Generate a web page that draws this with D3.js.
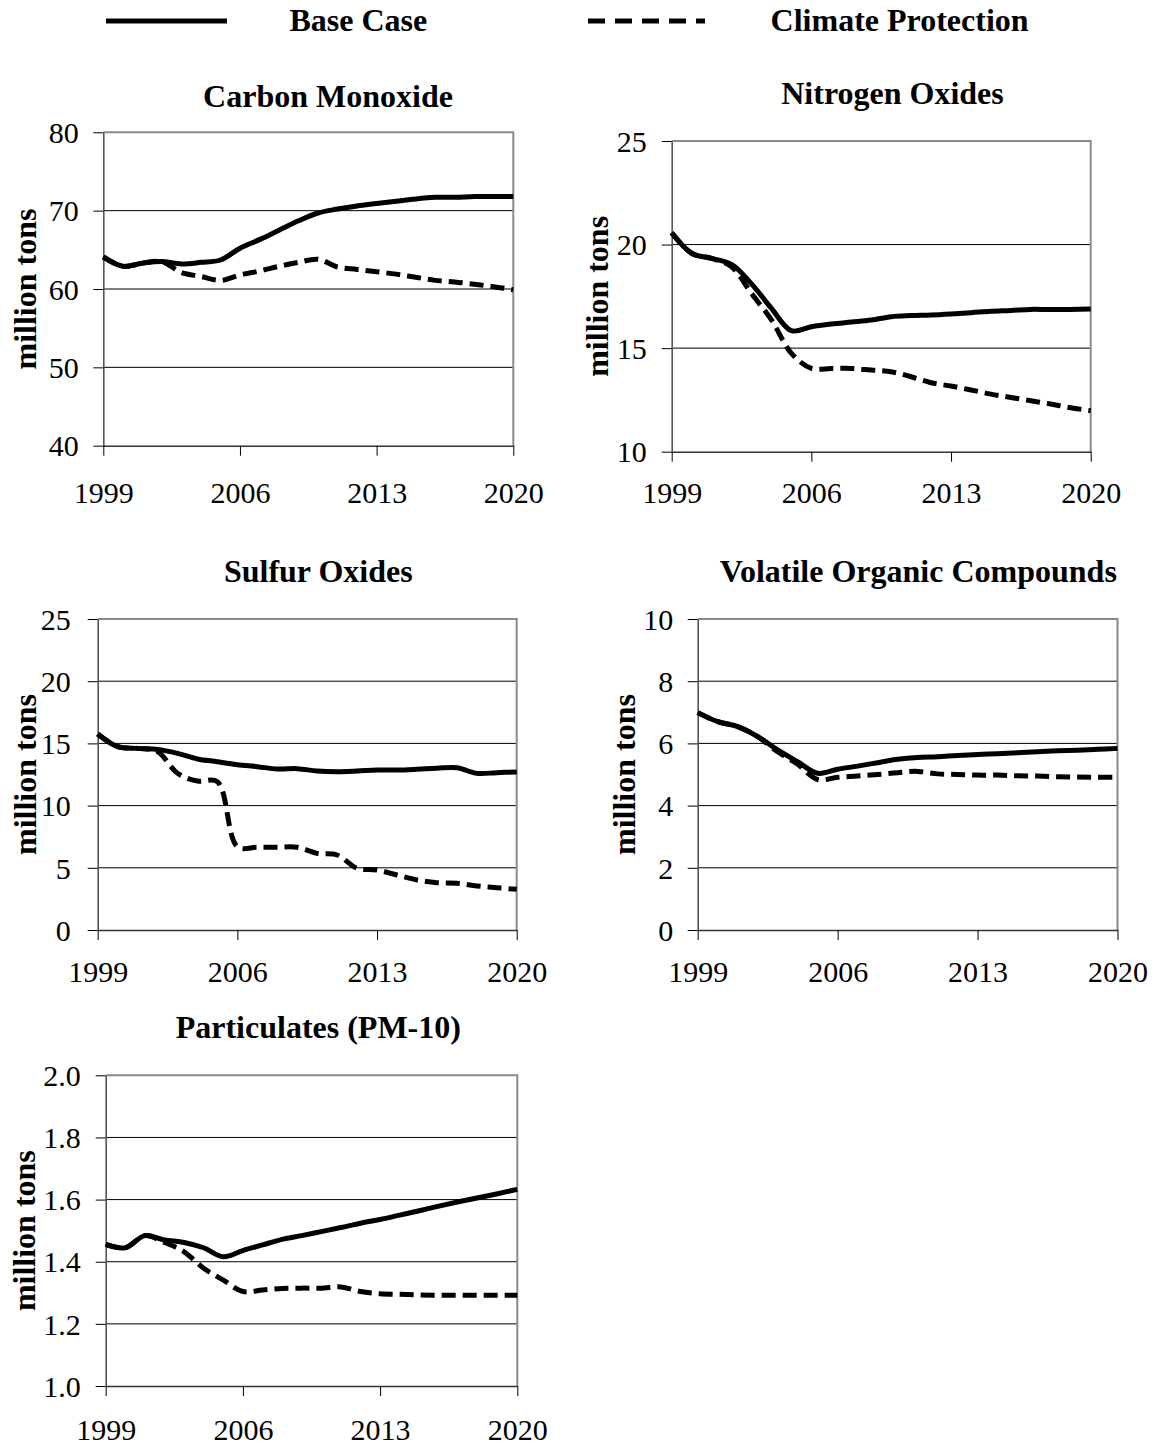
<!DOCTYPE html>
<html>
<head>
<meta charset="utf-8">
<script src="https://cdn.jsdelivr.net/npm/d3@7"></script>
<style>
  body { margin: 0; background: #fff; }
  svg { display: block; background: #fff; }
  text { font-family: "Liberation Serif", "Times New Roman", serif; fill: #000; }
</style>
</head>
<body>
<svg id="chart" width="1153" height="1445"></svg>
<script>
// ---------------- DATA ----------------
const years = [1999, 2000, 2001, 2002, 2003, 2004, 2005, 2006, 2007, 2008, 2009,
               2010, 2011, 2012, 2013, 2014, 2015, 2016, 2017, 2018, 2019, 2020];
const yearTicks = [1999, 2006, 2013, 2020];
const seriesNames = ["Base Case", "Climate Protection"];
const titles = ["Carbon Monoxide", "Nitrogen Oxides", "Sulfur Oxides",
                "Volatile Organic Compounds", "Particulates (PM-10)"];
const yAxisLabel = "million tons";

const coBase     = [64.1, 62.9, 63.3, 63.5, 63.2, 63.4, 63.7, 65.2, 66.3, 67.5, 68.7,
                    69.7, 70.2, 70.6, 70.9, 71.2, 71.5, 71.7, 71.7, 71.8, 71.8, 71.8];
const coClimate  = [64.1, 62.9, 63.3, 63.5, 62.1, 61.6, 61.1, 61.8, 62.3, 62.9, 63.4,
                    63.8, 62.8, 62.5, 62.2, 61.9, 61.5, 61.1, 60.9, 60.6, 60.3, 59.9];
const coTicks    = [40, 50, 60, 70, 80];

const noxBase    = [20.57, 19.58, 19.33, 19.04, 18.1, 16.92, 15.84, 16.03, 16.16, 16.26, 16.36,
                    16.52, 16.57, 16.6, 16.65, 16.71, 16.78, 16.82, 16.87, 16.86, 16.87, 16.89];
const noxClimate = [20.57, 19.58, 19.33, 18.93, 17.64, 16.36, 14.75, 14.02, 14.02, 14.02, 13.94,
                    13.86, 13.62, 13.33, 13.17, 12.98, 12.78, 12.62, 12.46, 12.3, 12.12, 11.98];
const noxTicks   = [10, 15, 20, 25];

const soxBase    = [15.76, 14.74, 14.6, 14.52, 14.2, 13.75, 13.53, 13.29, 13.13, 12.94, 12.97,
                    12.78, 12.73, 12.78, 12.86, 12.86, 12.92, 13.0, 13.05, 12.59, 12.65, 12.7];
const soxClimate = [15.76, 14.74, 14.6, 14.34, 12.6, 11.98, 11.92, 6.7, 6.65, 6.65, 6.65,
                    6.16, 6.03, 4.96, 4.82, 4.42, 4.02, 3.8, 3.75, 3.54, 3.4, 3.27];
const soxTicks   = [0, 5, 10, 15, 20, 25];

const vocBase    = [6.99, 6.7, 6.54, 6.22, 5.79, 5.41, 5.04, 5.17, 5.27, 5.38, 5.49,
                    5.55, 5.57, 5.61, 5.64, 5.67, 5.7, 5.73, 5.76, 5.78, 5.81, 5.84];
const vocClimate = [6.99, 6.7, 6.54, 6.22, 5.73, 5.33, 4.84, 4.91, 4.95, 5.0, 5.06,
                    5.1, 5.02, 5.0, 4.98, 4.98, 4.96, 4.95, 4.93, 4.92, 4.91, 4.91];
const vocTicks   = [0, 2, 4, 6, 8, 10];

const pmBase     = [1.456, 1.445, 1.484, 1.47, 1.462, 1.445, 1.416, 1.436, 1.454, 1.472, 1.484,
                    1.497, 1.51, 1.524, 1.536, 1.55, 1.564, 1.579, 1.593, 1.606, 1.619, 1.633];
const pmClimate  = [1.456, 1.445, 1.484, 1.462, 1.432, 1.379, 1.341, 1.304, 1.309, 1.314, 1.315,
                    1.315, 1.319, 1.304, 1.297, 1.295, 1.293, 1.292, 1.292, 1.292, 1.292, 1.292];
const pmTicks    = [1.0, 1.2, 1.4, 1.6, 1.8, 2.0];

// ---------------- LAYOUT / STYLE ----------------
const panels = [
  { title: titles[0], base: coBase,  climate: coClimate,  ticks: coTicks,  fmt: d3.format("d"),
    left: 103.3, right: 513.3, top: 132.3, bottom: 445.7, titleX: 328, titleY: 106.7, labelX: 36, yearDy: 57, pad: 14.5 },
  { title: titles[1], base: noxBase, climate: noxClimate, ticks: noxTicks, fmt: d3.format("d"),
    left: 671.7, right: 1090.7, top: 141, bottom: 451.7, titleX: 892.5, titleY: 104, labelX: 607.5, yearDy: 51, pad: 15 },
  { title: titles[2], base: soxBase, climate: soxClimate, ticks: soxTicks, fmt: d3.format("d"),
    left: 97.7, right: 516.7, top: 619, bottom: 930, titleX: 318.3, titleY: 581.7, labelX: 35.7, yearDy: 52, pad: 17 },
  { title: titles[3], base: vocBase, climate: vocClimate, ticks: vocTicks, fmt: d3.format("d"),
    left: 697.7, right: 1117.5, top: 619, bottom: 930, titleX: 918.3, titleY: 581.7, labelX: 635.3, yearDy: 52, pad: 14.5 },
  { title: titles[4], base: pmBase,  climate: pmClimate,  ticks: pmTicks,  fmt: d3.format(".1f"),
    left: 105.7, right: 517.3, top: 1075.3, bottom: 1386, titleX: 318.3, titleY: 1038.3, labelX: 35, yearDy: 54, pad: 15 }
];

const lineWidth = 5;
const dash = "14,7";

const svg = d3.select("#chart");
svg.append("rect").attr("width", 1153).attr("height", 1445).attr("fill", "#fff");

// ---------------- LEGEND ----------------
const legend = svg.append("g");
legend.append("line").attr("x1", 106).attr("x2", 227).attr("y1", 21).attr("y2", 21)
  .attr("stroke", "#000").attr("stroke-width", lineWidth);
legend.append("text").attr("x", 289.4).attr("y", 30.5).attr("font-size", 32).attr("font-weight", "bold")
  .text(seriesNames[0]);
legend.append("line").attr("x1", 588).attr("x2", 705).attr("y1", 21).attr("y2", 21)
  .attr("stroke", "#000").attr("stroke-width", lineWidth).attr("stroke-dasharray", "17,10");
legend.append("text").attr("x", 770.6).attr("y", 30.5).attr("font-size", 32).attr("font-weight", "bold")
  .text(seriesNames[1]);

// ---------------- PANELS ----------------
panels.forEach(p => {
  const x = d3.scaleLinear().domain([years[0], years[years.length - 1]]).range([p.left, p.right]);
  const y = d3.scaleLinear().domain([p.ticks[0], p.ticks[p.ticks.length - 1]]).range([p.bottom, p.top]);
  const g = svg.append("g");

  // gridlines (interior ticks)
  g.selectAll("line.grid").data(p.ticks.slice(1, -1)).join("line")
    .attr("class", "grid")
    .attr("x1", p.left).attr("x2", p.right)
    .attr("y1", d => y(d)).attr("y2", d => y(d))
    .attr("stroke", "#000").attr("stroke-width", 1);

  // top and right border (gray)
  g.append("path")
    .attr("d", `M${p.left},${y(p.ticks[p.ticks.length - 1])}H${p.right}V${p.bottom}`)
    .attr("fill", "none").attr("stroke", "#8a8a8a").attr("stroke-width", 2);

  // y axis
  const ya = g.append("g").attr("transform", `translate(${p.left},0)`)
    .call(d3.axisLeft(y).tickValues(p.ticks).tickFormat(p.fmt).tickSize(10).tickSizeOuter(0).tickPadding(p.pad));
  ya.attr("font-family", null).attr("font-size", null);
  ya.select(".domain").attr("stroke", "#555").attr("stroke-width", 1.6);
  ya.selectAll(".tick line").attr("stroke", "#000").attr("stroke-width", 1);
  ya.selectAll(".tick text").attr("font-size", 30).attr("dy", "0.34em");

  // x axis
  const xa = g.append("g").attr("transform", `translate(0,${p.bottom})`)
    .call(d3.axisBottom(x).tickValues(yearTicks).tickFormat(d3.format("d")).tickSize(10).tickSizeOuter(0));
  xa.attr("font-family", null).attr("font-size", null);
  xa.select(".domain").attr("stroke", "#333").attr("stroke-width", 1.6);
  xa.selectAll(".tick line").attr("stroke", "#000").attr("stroke-width", 1);
  xa.selectAll(".tick text").attr("font-size", 30).attr("y", p.yearDy).attr("dy", 0);

  // title
  g.append("text").attr("x", p.titleX).attr("y", p.titleY)
    .attr("text-anchor", "middle").attr("font-size", 32).attr("font-weight", "bold")
    .text(p.title);

  // y label
  g.append("text")
    .attr("transform", `translate(${p.labelX},${(p.top + p.bottom) / 2}) rotate(-90)`)
    .attr("text-anchor", "middle").attr("font-size", 32).attr("font-weight", "bold")
    .text(yAxisLabel);

  // lines
  const line = d3.line().x((d, i) => x(years[i])).y(d => y(d)).curve(d3.curveCatmullRom.alpha(0.5));
  g.append("path").datum(p.climate).attr("d", line)
    .attr("fill", "none").attr("stroke", "#000").attr("stroke-width", lineWidth)
    .attr("stroke-dasharray", dash);
  g.append("path").datum(p.base).attr("d", line)
    .attr("fill", "none").attr("stroke", "#000").attr("stroke-width", lineWidth)
    .attr("stroke-linejoin", "round");
});
</script>
</body>
</html>
